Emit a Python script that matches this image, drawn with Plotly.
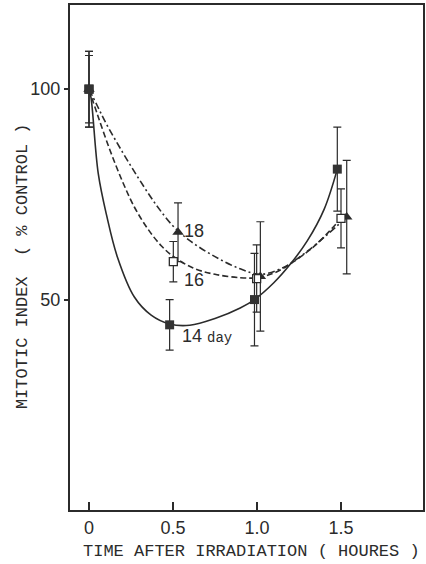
import plotly.graph_objects as go

# ---- data ----
tick_vals = [0, 0.5, 1.0, 1.5]
tick_text = ["0", "0.5", "1.0", "1.5"]
y_tick_vals = [50, 100]
y_tick_text = ["50", "100"]
x_title = "TIME AFTER IRRADIATION ( HOURES )"
y_title = "MITOTIC INDEX  ( % CONTROL )"

# measured points (x slightly staggered as drawn)
x_14 = [0.0, 0.48, 0.985, 1.478]
mi_14 = [100, 44, 50, 81]
err_14 = [9, 6, 11, 10]

x_16 = [0.0, 0.502, 0.998, 1.50]
mi_16 = [100, 59, 55, 69.3]
err_16 = [8, 4.8, 8, 7]

x_18 = [0.0, 0.53, 1.02, 1.534]
mi_18 = [100, 66, 55.5, 69.6]
err_18 = [9, 7, 13, 13.5]

# fitted curves
curve14_x = [0, 0.012, 0.055, 0.105, 0.17, 0.27, 0.37, 0.48, 0.6, 0.75, 0.9, 0.985, 1.1, 1.2, 1.3, 1.4, 1.478]
curve14_y = [100, 98, 80, 70, 60, 50.6, 46.3, 44.2, 43.9, 45.5, 48, 50, 54, 58.5, 64, 71.5, 81]

curve16_x = [0, 0.05, 0.125, 0.2, 0.27, 0.35, 0.43, 0.5, 0.62, 0.75, 0.9, 1.0, 1.1, 1.2, 1.35, 1.5]
curve16_y = [100, 94, 85.5, 78, 72, 66.8, 62.8, 60.3, 57.5, 56, 55.2, 55.2, 56.3, 58.5, 63, 69.3]

curve18_x = [0, 0.05, 0.1, 0.2, 0.3, 0.4, 0.5, 0.6, 0.75, 0.9, 1.02, 1.15, 1.3, 1.534]
curve18_y = [100, 96, 92, 85, 78.5, 72.5, 67.5, 64, 60.2, 57.3, 56, 57.5, 61.5, 69.6]

labels = ["18", "16", "14"]
label_x = [0.553, 0.552, 0.542]
label_y = [66.3, 54.6, 41.3]

INK = "#2b2b2b"
MONO = "Liberation Mono, Courier New, monospace"
SANS = "Liberation Sans, Arial, sans-serif"

fig = go.Figure()

# curves
fig.add_trace(go.Scatter(x=curve14_x, y=curve14_y, mode="lines",
                         line=dict(color=INK, width=1.6, shape="spline", smoothing=1.0),
                         hoverinfo="skip", showlegend=False))
fig.add_trace(go.Scatter(x=curve16_x, y=curve16_y, mode="lines",
                         line=dict(color=INK, width=1.6, shape="spline", smoothing=1.0, dash="6px,3px"),
                         hoverinfo="skip", showlegend=False))
fig.add_trace(go.Scatter(x=curve18_x, y=curve18_y, mode="lines",
                         line=dict(color=INK, width=1.6, shape="spline", smoothing=1.0, dash="7px,3px,2px,3px"),
                         hoverinfo="skip", showlegend=False))

err_style = dict(type="data", color=INK, thickness=1.2, width=4)

fig.add_trace(go.Scatter(x=x_18, y=mi_18, mode="markers", name="18",
                         error_y=dict(array=err_18, **err_style),
                         marker=dict(symbol="triangle-up", size=10, color=INK),
                         showlegend=False))
fig.add_trace(go.Scatter(x=x_16, y=mi_16, mode="markers", name="16",
                         error_y=dict(array=err_16, **err_style),
                         marker=dict(symbol="square", size=8, color="white",
                                     line=dict(color=INK, width=1.3)),
                         showlegend=False))
fig.add_trace(go.Scatter(x=x_14, y=mi_14, mode="markers", name="14 day",
                         error_y=dict(array=err_14, **err_style),
                         marker=dict(symbol="square", size=9, color="#333333"),
                         showlegend=False))

for i, t in enumerate(labels):
    txt = t if t != "14" else "14 <span style='font-family:Liberation Mono, monospace;font-size:14px'>day</span>"
    fig.add_annotation(x=label_x[i], y=label_y[i], text=txt, showarrow=False,
                       xanchor="left", yanchor="middle",
                       font=dict(family=SANS, size=18, color=INK))

# axis titles
fig.add_annotation(xref="paper", yref="paper", x=0.514, y=-0.082, text=x_title,
                   showarrow=False, xanchor="center", yanchor="middle",
                   font=dict(family=MONO, size=17, color=INK))
fig.add_annotation(xref="paper", yref="paper", x=-0.136, y=0.483, text=y_title,
                   showarrow=False, xanchor="center", yanchor="middle", textangle=-90,
                   font=dict(family=MONO, size=17, color=INK))

fig.update_layout(
    width=426, height=564,
    margin=dict(l=70, r=3, t=5, b=54),
    paper_bgcolor="white", plot_bgcolor="white",
    showlegend=False,
)
fig.update_xaxes(range=[-0.113, 1.988], tickvals=tick_vals, ticktext=tick_text,
                 ticks="inside", ticklen=8, tickwidth=1.5, tickcolor=INK,
                 showline=True, linewidth=2, linecolor=INK, mirror=True,
                 showgrid=False, zeroline=False, automargin=False,
                 tickfont=dict(family=SANS, size=18, color=INK))
fig.update_yaxes(range=[0, 120], tickvals=y_tick_vals, ticktext=y_tick_text,
                 ticks="outside", ticklen=4, tickwidth=1.5, tickcolor=INK,
                 showline=True, linewidth=2, linecolor=INK, mirror=True,
                 showgrid=False, zeroline=False, automargin=False,
                 tickfont=dict(family=SANS, size=18, color=INK))

fig.write_html("out.html", config={"displayModeBar": False},
               post_script="document.body.style.margin='0';document.body.style.padding='0';")
